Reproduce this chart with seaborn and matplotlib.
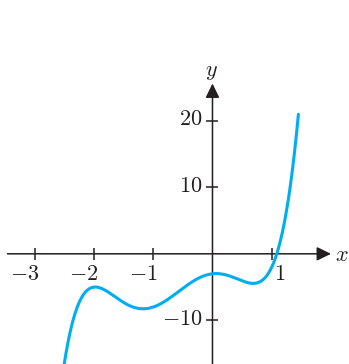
import numpy as np
import pandas as pd
import matplotlib
matplotlib.use("Agg")
import matplotlib.pyplot as plt
import seaborn as sns

# y = 2x^5 + 6x^4 + 0x^3 - 8x^2 + x - 3, highest power first
coefficients = [2, 6, 0, -8, 1, -3]
x_domain = [-2.7, 1.45]

x_ticks = [-3, -2, -1, 1]
x_tick_labels = ["$-3$", "$-2$", "$-1$", "$1$"]
y_ticks = [-10, 10, 20]
y_tick_labels = ["$-10$", "$10$", "$20$"]

sns.set_theme(style="white")
plt.rcParams["mathtext.fontset"] = "cm"

AXIS = "#231F20"
CURVE = "#00AEEF"
FS = 16

fig = plt.figure(figsize=(3.49, 3.64), dpi=100)
ax = fig.add_axes([0, 0, 1, 1])
ax.set_xlim(-3.586, 2.304)
ax.set_ylim(-16.56, 38.15)
ax.axis("off")

# the curve
xs = np.linspace(x_domain[0], x_domain[1], 600)
df = pd.DataFrame({"x": xs, "y": np.polyval(coefficients, xs)})
sns.lineplot(data=df, x="x", y="y", ax=ax, color=CURVE, linewidth=2.2,
             sort=False, zorder=4, legend=False)

# axes with arrow heads
arrow = dict(arrowstyle="-|>,head_length=0.86,head_width=0.42",
             color=AXIS, lw=1.1, shrinkA=0, shrinkB=0, mutation_scale=10)
ax.annotate("", xy=(2.0, 0), xytext=(-3.46, 0), arrowprops=arrow, zorder=3)
ax.annotate("", xy=(0, 25.6), xytext=(0, -17), arrowprops=arrow, zorder=3)

# tick marks crossing the axes
ax.plot(x_ticks, [0] * len(x_ticks), ls="none", marker="|", ms=9,
        mew=1.1, color=AXIS, zorder=3)
ax.plot([0] * len(y_ticks), y_ticks, ls="none", marker="_", ms=9,
        mew=1.1, color=AXIS, zorder=3)

# tick labels
for t, lab in zip(x_ticks, x_tick_labels):
    if t < 0:
        ax.annotate(lab, (t, 0), xytext=(3.4, -18.5), textcoords="offset points",
                    ha="right", va="baseline", fontsize=FS, color=AXIS)
    else:
        ax.annotate(lab, (t, 0), xytext=(5.9, -18.5), textcoords="offset points",
                    ha="center", va="baseline", fontsize=FS, color=AXIS)
for t, lab in zip(y_ticks, y_tick_labels):
    ax.annotate(lab, (0, t), xytext=(-7.0, 1.0), textcoords="offset points",
                ha="right", va="center", fontsize=FS, color=AXIS)

# axis names
ax.annotate("$x$", (2.0, 0), xytext=(7.6, -0.9), textcoords="offset points",
            ha="center", va="center", fontsize=FS, color=AXIS)
ax.annotate("$y$", (0, 25.6), xytext=(-0.7, 8.0), textcoords="offset points",
            ha="center", va="center", fontsize=FS, color=AXIS)

fig.savefig("out.png", dpi=100)
